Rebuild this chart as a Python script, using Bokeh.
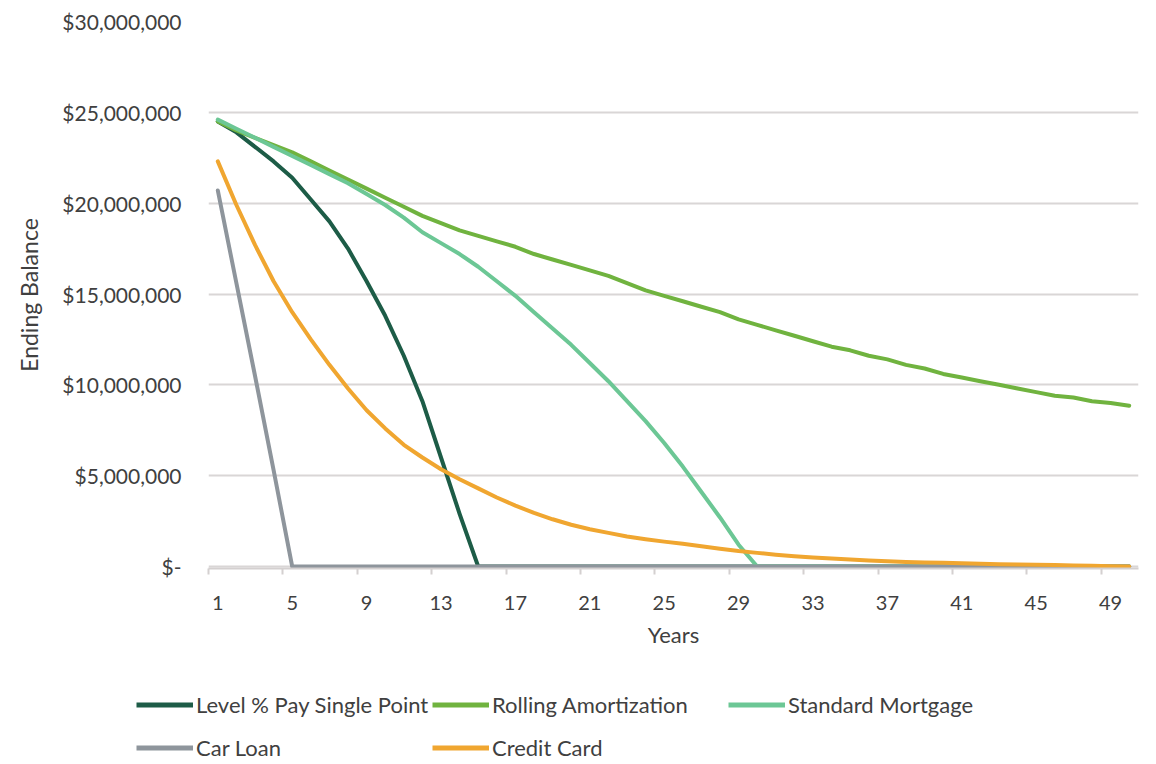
from bokeh.plotting import figure
from bokeh.layouts import column
from bokeh.models import (Range1d, FixedTicker, Legend, LegendItem)
from bokeh.embed import file_html
from bokeh.resources import INLINE

# ---- data: ending balance by year (millions of dollars) ----
years = list(range(1, 51))

level_pct_pay = [24.5, 23.9, 23.1, 22.3, 21.4, 20.2, 19.0, 17.5, 15.7, 13.8,
                 11.6, 9.1, 6.0, 2.9, 0.0] + [0.0] * 35

rolling_amort = [24.5, 24.0, 23.6, 23.2, 22.8, 22.3, 21.8, 21.3, 20.8, 20.3,
                 19.8, 19.3, 18.9, 18.5, 18.2, 17.9, 17.6, 17.2, 16.9, 16.6,
                 16.3, 16.0, 15.6, 15.2, 14.9, 14.6, 14.3, 14.0, 13.6, 13.3,
                 13.0, 12.7, 12.4, 12.1, 11.9, 11.6, 11.4, 11.1, 10.9, 10.6,
                 10.4, 10.2, 10.0, 9.8, 9.6, 9.4, 9.3, 9.1, 9.0, 8.85]

standard_mortgage = [24.6, 24.1, 23.6, 23.1, 22.6, 22.1, 21.6, 21.1, 20.5, 19.9,
                     19.2, 18.4, 17.8, 17.2, 16.5, 15.7, 14.9, 14.0, 13.1, 12.2,
                     11.2, 10.2, 9.1, 8.0, 6.8, 5.5, 4.1, 2.7, 1.2, 0.0] + [0.0] * 20

car_loan = [20.7, 15.6, 10.5, 5.3, 0.0] + [0.0] * 45

credit_card = [22.3, 19.9, 17.7, 15.7, 14.0, 12.5, 11.1, 9.8, 8.6, 7.6,
               6.7, 6.0, 5.35, 4.8, 4.3, 3.8, 3.35, 2.95, 2.6, 2.3,
               2.05, 1.85, 1.65, 1.5, 1.37, 1.25, 1.12, 0.98, 0.85, 0.75,
               0.65, 0.57, 0.5, 0.44, 0.38, 0.33, 0.29, 0.25, 0.22, 0.2,
               0.18, 0.15, 0.13, 0.11, 0.1, 0.08, 0.06, 0.04, 0.02, 0.0]

series_names = ["Level % Pay Single Point", "Rolling Amortization",
                "Standard Mortgage", "Car Loan", "Credit Card"]
series_values = [level_pct_pay, rolling_amort, standard_mortgage, car_loan, credit_card]
series_colors = ["#1d5c47", "#70b33f", "#6cc795", "#8e959c", "#f0a630"]

x_tick_values = list(range(1, 50, 4))
y_tick_values = [0, 5_000_000, 10_000_000, 15_000_000, 20_000_000, 25_000_000, 30_000_000]
y_tick_labels = ["$-", "$5,000,000", "$10,000,000", "$15,000,000",
                 "$20,000,000", "$25,000,000", "$30,000,000"]

FONT = "Lato"
TEXT = "#404040"
W = 1156
CHART_H = 664
LEGEND_H = 100

# a small negative start keeps the zero-balance lines from being half clipped
p = figure(width=W, height=CHART_H, output_backend="svg", toolbar_location=None,
           x_range=Range1d(0.5, 50.5), y_range=Range1d(-110_000, 30_000_000),
           min_border_left=208, min_border_right=18, min_border_top=21,
           min_border_bottom=96, background_fill_color="white",
           border_fill_color="white")
p.outline_line_color = None
p.xgrid.visible = False
p.ygrid.grid_line_color = "#d9d6d6"
p.ygrid.grid_line_width = 2

# y axis
p.yaxis.ticker = FixedTicker(ticks=y_tick_values)
p.yaxis.major_label_overrides = dict(zip(y_tick_values, y_tick_labels))
p.yaxis.axis_line_color = None
p.yaxis.major_tick_line_color = None
p.yaxis.minor_tick_line_color = None
p.yaxis.major_label_standoff = 21
p.yaxis.major_label_text_font = FONT
p.yaxis.major_label_text_font_size = "21px"
p.yaxis.major_label_text_color = TEXT
p.yaxis.axis_label = "Ending Balance"
p.yaxis.axis_label_text_font = FONT
p.yaxis.axis_label_text_font_style = "normal"
p.yaxis.axis_label_text_font_size = "23px"
p.yaxis.axis_label_text_color = TEXT
p.yaxis.axis_label_standoff = 16

# x axis: labels every 4 years, tick marks on category boundaries
p.xaxis.ticker = FixedTicker(ticks=x_tick_values,
                             minor_ticks=[t - 0.5 for t in x_tick_values])
p.xaxis.axis_line_color = "#d4d0d0"
p.xaxis.axis_line_width = 2
p.xaxis.major_tick_line_color = None
p.xaxis.minor_tick_line_color = "#d4d0d0"
p.xaxis.minor_tick_line_width = 2
p.xaxis.minor_tick_out = 6
p.xaxis.minor_tick_in = 0
p.xaxis.major_label_standoff = 21
p.xaxis.major_label_text_font = FONT
p.xaxis.major_label_text_font_size = "20px"
p.xaxis.major_label_text_color = TEXT
p.xaxis.axis_label = "Years"
p.xaxis.axis_label_text_font = FONT
p.xaxis.axis_label_text_font_style = "normal"
p.xaxis.axis_label_text_font_size = "22px"
p.xaxis.axis_label_text_color = TEXT
p.xaxis.axis_label_standoff = 8

for vals, color in zip(series_values, series_colors):
    p.line(years, [v * 1_000_000 for v in vals], line_color=color,
           line_width=4, line_join="round", line_cap="round")

# legend strip under the chart (its frame spans the full width)
lg = figure(width=W, height=LEGEND_H, output_backend="svg", toolbar_location=None,
            x_range=Range1d(0, 1), y_range=Range1d(0, 1),
            x_axis_type=None, y_axis_type=None, min_border=0,
            background_fill_color="white", border_fill_color="white")
lg.outline_line_color = None
lg.grid.visible = False
for fig in (p, lg):
    if "frame_align" in fig.properties():
        fig.frame_align = False

items = []
for name, color in zip(series_names, series_colors):
    # off-screen stand-in so the legend has a line glyph to draw
    r = lg.line([-2, -1], [-2, -1], line_color=color, line_width=5)
    items.append(LegendItem(label=name, renderers=[r]))

legend = Legend(items=items, orientation="horizontal", ncols=3,
                location=(136, -5), glyph_width=57, glyph_height=43,
                label_height=43, label_width=236, label_standoff=3,
                spacing=0, padding=0, margin=0,
                border_line_color=None, background_fill_alpha=0,
                label_text_font=FONT, label_text_font_size="22px",
                label_text_color=TEXT)
lg.add_layout(legend, "center")

layout = column(p, lg, spacing=0)
open("out.html", "w").write(file_html(layout, INLINE))
